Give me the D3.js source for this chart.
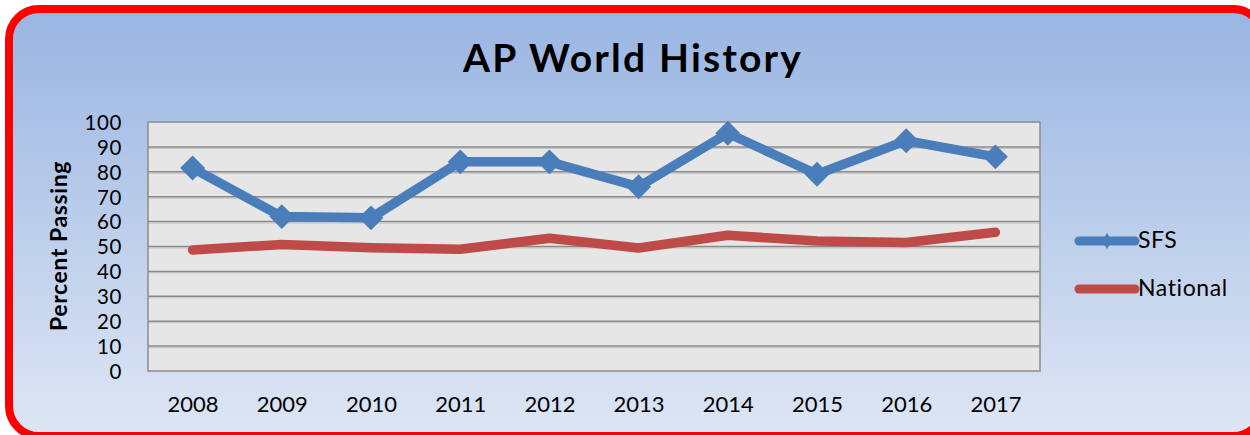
<!DOCTYPE html>
<html>
<head>
<meta charset="utf-8">
<script src="https://cdn.jsdelivr.net/npm/d3@7"></script>
<style>
  body { margin: 0; background: #ffffff; }
  text { font-family: Lato, "Open Sans", sans-serif; fill: #000; }
</style>
</head>
<body>
<div id="container"></div>
<script>
/* DATA */
const years = ["2008", "2009", "2010", "2011", "2012", "2013", "2014", "2015", "2016", "2017"];
const sfsValues = [81.5, 62, 61.5, 84, 84, 74, 95.5, 79, 92.5, 86];
const nationalValues = [48.6, 50.8, 49.5, 48.9, 53.3, 49.4, 54.5, 52.2, 51.6, 55.7];
const yTicks = [0, 10, 20, 30, 40, 50, 60, 70, 80, 90, 100];
const seriesNames = ["SFS", "National"];

/* CONSTANTS */
const width = 1250, height = 435;
const plot = { left: 148, top: 122, right: 1040, bottom: 371 };
const colors = { SFS: "#4a7ebb", National: "#be4b48" };

const svg = d3.select("#container").append("svg")
  .attr("width", width)
  .attr("height", height);

/* BACKGROUND + BORDER */
const defs = svg.append("defs");
const grad = defs.append("linearGradient")
  .attr("id", "bg")
  .attr("x1", 0).attr("y1", 0).attr("x2", 0).attr("y2", 1);
grad.append("stop").attr("offset", "0%").attr("stop-color", "#99b5e2");
grad.append("stop").attr("offset", "100%").attr("stop-color", "#dee6f4");

svg.append("rect")
  .attr("x", 9).attr("y", 9)
  .attr("width", 1254).attr("height", 427)
  .attr("rx", 30).attr("ry", 30)
  .attr("fill", "url(#bg)")
  .attr("stroke", "#ff0000")
  .attr("stroke-width", 8);

/* SCALES */
const xScale = d3.scalePoint()
  .domain(years)
  .range([plot.left, plot.right])
  .padding(0.5);

const yScale = d3.scaleLinear()
  .domain([0, 100])
  .range([plot.bottom, plot.top]);

/* PLOT AREA */
svg.append("rect")
  .attr("x", plot.left).attr("y", plot.top)
  .attr("width", plot.right - plot.left)
  .attr("height", plot.bottom - plot.top)
  .attr("fill", "#e6e6e6");

// gridlines (with a faint shadow line under each)
const grid = svg.append("g");
grid.selectAll("line.shadow")
  .data(yTicks.slice(1, -1))
  .join("line")
  .attr("class", "shadow")
  .attr("x1", plot.left).attr("x2", plot.right)
  .attr("y1", d => yScale(d) + 1.5).attr("y2", d => yScale(d) + 1.5)
  .attr("stroke", "#c4c4c4")
  .attr("stroke-width", 1);
grid.selectAll("line.main")
  .data(yTicks.slice(1, -1))
  .join("line")
  .attr("class", "main")
  .attr("x1", plot.left).attr("x2", plot.right)
  .attr("y1", d => yScale(d)).attr("y2", d => yScale(d))
  .attr("stroke", "#8a8a8a")
  .attr("stroke-width", 1.5);

svg.append("rect")
  .attr("x", plot.left).attr("y", plot.top)
  .attr("width", plot.right - plot.left)
  .attr("height", plot.bottom - plot.top)
  .attr("fill", "none")
  .attr("stroke", "#8c8c8c")
  .attr("stroke-width", 1.5);

/* AXES */
const yAxis = d3.axisLeft(yScale).tickValues(yTicks).tickSize(0).tickPadding(0);
const gy = svg.append("g")
  .attr("transform", `translate(${plot.left - 26},0)`)
  .call(yAxis);
gy.select(".domain").remove();
gy.selectAll("text")
  .attr("font-size", 20.5)
  .attr("font-family", "Lato, sans-serif")
  .attr("letter-spacing", 0.6)
  .attr("fill", "#000")
  .attr("dy", "0.36em");

const xAxis = d3.axisBottom(xScale).tickSize(0).tickPadding(0);
const gx = svg.append("g")
  .attr("transform", `translate(0,${plot.bottom + 25})`)
  .call(xAxis);
gx.select(".domain").remove();
gx.selectAll("text")
  .attr("font-size", 22)
  .attr("font-family", "Lato, sans-serif")
  .attr("fill", "#000")
  .attr("dy", "0.72em");

/* TITLES */
svg.append("text")
  .attr("x", 633).attr("y", 72)
  .attr("text-anchor", "middle")
  .attr("font-size", 39)
  .attr("letter-spacing", 2.2)
  .attr("font-weight", "bold")
  .text("AP World History");

svg.append("text")
  .attr("transform", "translate(67,246) rotate(-90)")
  .attr("text-anchor", "middle")
  .attr("font-size", 23)
  .attr("letter-spacing", 0.6)
  .attr("font-weight", "bold")
  .text("Percent Passing");

/* LINES */
const series = [
  { name: "SFS", values: sfsValues, marker: true },
  { name: "National", values: nationalValues, marker: false }
];

const line = d3.line()
  .x((d, i) => xScale(years[i]))
  .y(d => yScale(d));

series.forEach(s => {
  svg.append("path")
    .datum(s.values)
    .attr("d", line)
    .attr("fill", "none")
    .attr("stroke", colors[s.name])
    .attr("stroke-width", 9.5)
    .attr("stroke-linejoin", "round")
    .attr("stroke-linecap", "round");

  if (s.marker) {
    svg.selectAll(null)
      .data(s.values)
      .join("path")
      .attr("d", d3.symbol(d3.symbolSquare, 310)())
      .attr("transform", (d, i) => `translate(${xScale(years[i])},${yScale(d)}) rotate(45)`)
      .attr("fill", colors[s.name]);
  }
});

/* LEGEND */
const legend = svg.append("g");
seriesNames.forEach((name, i) => {
  const y = 241 + i * 48;
  legend.append("line")
    .attr("x1", 1079).attr("x2", 1135)
    .attr("y1", y).attr("y2", y)
    .attr("stroke", colors[name])
    .attr("stroke-width", 9)
    .attr("stroke-linecap", "round");
  if (name === "SFS") {
    legend.append("path")
      .attr("d", "M0,-8 L5,0 L0,8 L-5,0 Z")
      .attr("transform", `translate(1107,${y})`)
      .attr("fill", colors[name]);
  }
  legend.append("text")
    .attr("x", 1138).attr("y", y + 7)
    .attr("font-size", 23)
    .attr("letter-spacing", 0.6)
    .text(name);
});
</script>
</body>
</html>
